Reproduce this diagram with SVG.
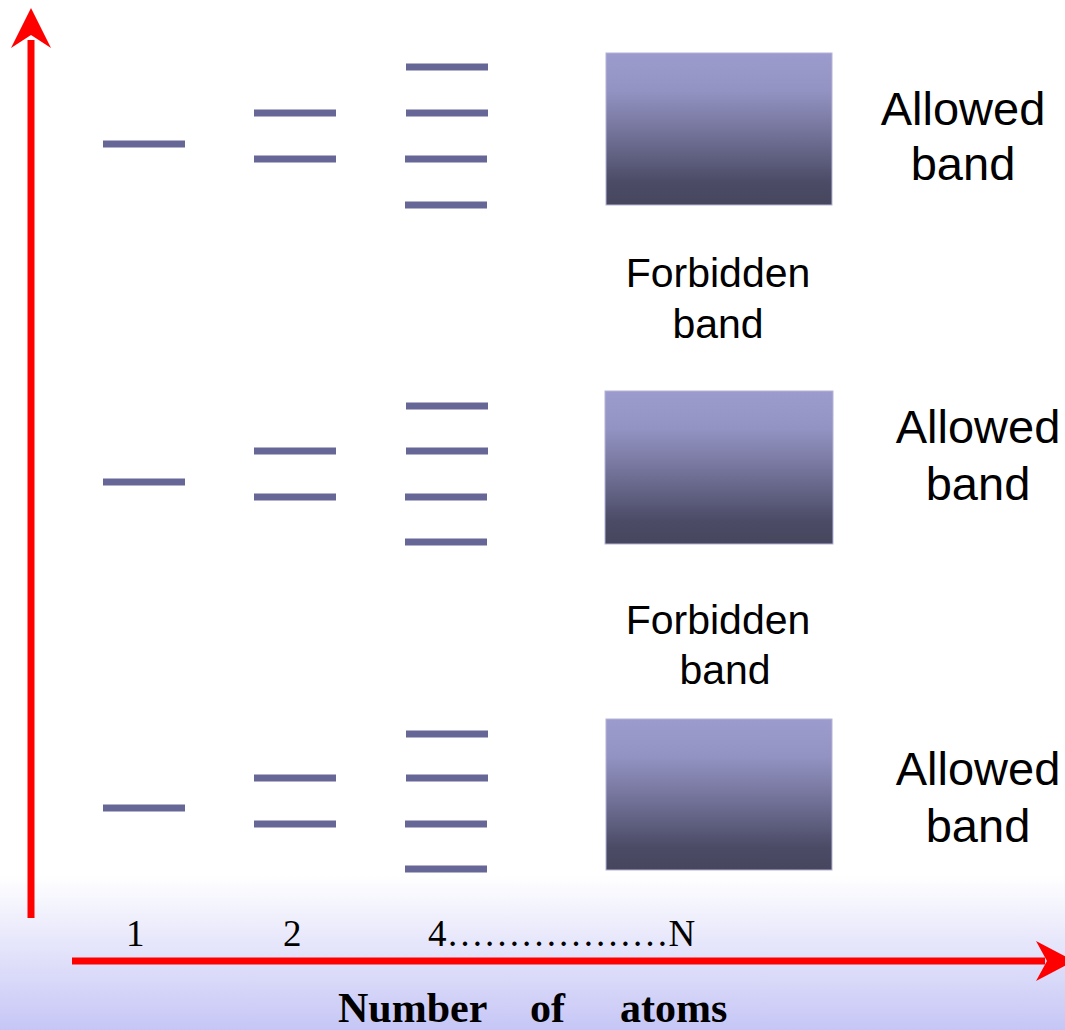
<svg xmlns="http://www.w3.org/2000/svg" width="1065" height="1030" viewBox="0 0 1065 1030">
<defs>
<linearGradient id="bg" x1="0" y1="0" x2="0" y2="1030" gradientUnits="userSpaceOnUse">
<stop offset="0" stop-color="#ffffff"/>
<stop offset="0.85" stop-color="#ffffff"/>
<stop offset="1" stop-color="#c6c6f6"/>
</linearGradient>
<linearGradient id="band" x1="0" y1="0" x2="0" y2="1">
<stop offset="0" stop-color="#9b9bcd"/>
<stop offset="0.25" stop-color="#9393c3"/>
<stop offset="0.55" stop-color="#707096"/>
<stop offset="0.85" stop-color="#4b4b66"/>
<stop offset="1" stop-color="#46465e"/>
</linearGradient>
<style>
.lvl{stroke:#676797;stroke-width:7;fill:none}
.box{fill:url(#band);stroke:#b4b4d8;stroke-width:1}
.ax{stroke:#ff0000;stroke-width:7;fill:none}
.head{fill:#ff0000}
.big{font-family:"Liberation Sans",Arial,sans-serif;font-size:47px;fill:#000;text-anchor:middle}
.mid{font-family:"Liberation Sans",Arial,sans-serif;font-size:41px;fill:#000;text-anchor:middle}
.num{font-family:"Liberation Serif","Times New Roman",serif;font-size:37px;fill:#000}
.ttl{font-family:"Liberation Serif","Times New Roman",serif;font-size:42px;font-weight:bold;fill:#000}
</style>
</defs>
<rect x="0" y="0" width="1065" height="1030" fill="url(#bg)"/>

<g id="connectors">
<line class="ax" x1="31" y1="918" x2="31" y2="40"/>
<polygon class="head" points="31,8 51,48 31,35 11,48"/>
<line class="ax" x1="72" y1="961" x2="1045" y2="961"/>
<polygon class="head" points="1074,961 1036,941 1047,961 1036,981"/>
</g>

<g id="levels-1">
<line class="lvl" x1="103" y1="144" x2="185" y2="144"/>
<line class="lvl" x1="103" y1="482" x2="185" y2="482"/>
<line class="lvl" x1="103" y1="808" x2="185" y2="808"/>
</g>
<g id="levels-2">
<line class="lvl" x1="254" y1="113" x2="336" y2="113"/>
<line class="lvl" x1="254" y1="159" x2="336" y2="159"/>
<line class="lvl" x1="254" y1="451" x2="336" y2="451"/>
<line class="lvl" x1="254" y1="497" x2="336" y2="497"/>
<line class="lvl" x1="254" y1="778" x2="336" y2="778"/>
<line class="lvl" x1="254" y1="824" x2="336" y2="824"/>
</g>
<g id="levels-4">
<line class="lvl" x1="406" y1="67" x2="488" y2="67"/>
<line class="lvl" x1="406" y1="113" x2="488" y2="113"/>
<line class="lvl" x1="405" y1="159" x2="487" y2="159"/>
<line class="lvl" x1="405" y1="205" x2="487" y2="205"/>
<line class="lvl" x1="406" y1="406" x2="488" y2="406"/>
<line class="lvl" x1="406" y1="451" x2="488" y2="451"/>
<line class="lvl" x1="405" y1="497" x2="487" y2="497"/>
<line class="lvl" x1="405" y1="542" x2="487" y2="542"/>
<line class="lvl" x1="406" y1="734" x2="488" y2="734"/>
<line class="lvl" x1="406" y1="778" x2="488" y2="778"/>
<line class="lvl" x1="405" y1="824" x2="487" y2="824"/>
<line class="lvl" x1="405" y1="869" x2="487" y2="869"/>
</g>

<g id="band-top">
<rect class="box" x="606" y="53" width="226" height="152"/>
<text class="big" x="963" y="125">Allowed</text>
<text class="big" x="963" y="180">band</text>
</g>
<g id="forbidden-top">
<text class="mid" x="718" y="287">Forbidden</text>
<text class="mid" x="718" y="338">band</text>
</g>
<g id="band-mid">
<rect class="box" x="605" y="391" width="228" height="153"/>
<text class="big" x="978" y="443">Allowed</text>
<text class="big" x="978" y="500">band</text>
</g>
<g id="forbidden-bottom">
<text class="mid" x="718" y="634">Forbidden</text>
<text class="mid" x="725" y="684">band</text>
</g>
<g id="band-bottom">
<rect class="box" x="606" y="719" width="226" height="151"/>
<text class="big" x="978" y="785">Allowed</text>
<text class="big" x="978" y="842">band</text>
</g>

<g id="axis-labels">
<text class="num" x="126" y="946">1</text>
<text class="num" x="283" y="946">2</text>
<text class="num" x="428" y="946">4………………N</text>
<text class="ttl" y="1022"><tspan x="338">Number</tspan><tspan x="530">of</tspan><tspan x="620">atoms</tspan></text>
</g>
</svg>
